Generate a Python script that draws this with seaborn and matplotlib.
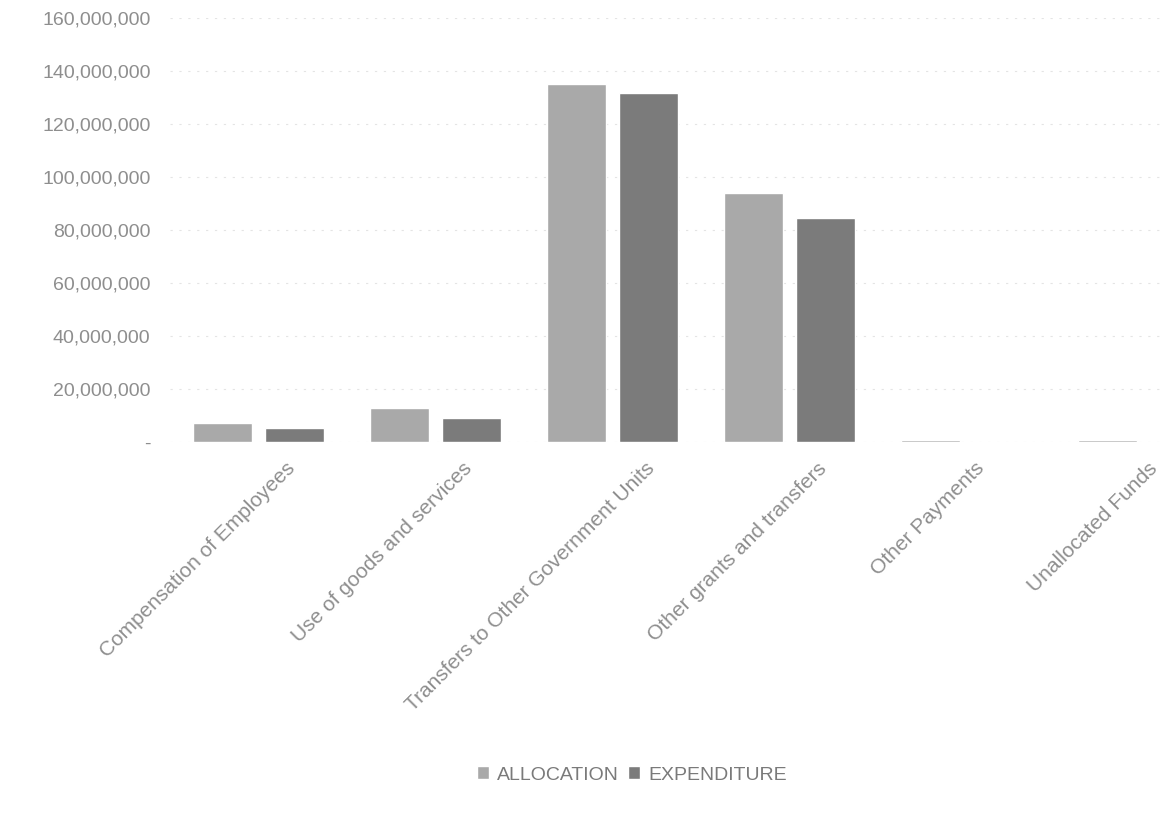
import matplotlib.pyplot as plt
import matplotlib.transforms as mtransforms
import seaborn as sns
import pandas as pd
from matplotlib.ticker import FuncFormatter

categories = ['Compensation of Employees', 'Use of goods and services',
              'Transfers to Other Government Units', 'Other grants and transfers',
              'Other Payments', 'Unallocated Funds']
allocation = [7200000, 12900000, 135000000, 94000000, 600000, 600000]
expenditure = [5300000, 9100000, 131700000, 84600000, 0, 0]
series = ['ALLOCATION', 'EXPENDITURE']

df = pd.DataFrame({
    'category': categories * 2,
    'value': allocation + expenditure,
    'series': [series[0]] * len(categories) + [series[1]] * len(categories),
})

sns.set_style('white')
plt.rcParams['font.family'] = ['Liberation Sans', 'DejaVu Sans']

fig = plt.figure(figsize=(11.63, 8.13), dpi=100)
ax = fig.add_axes([170 / 1163, 1 - 442 / 813, 993 / 1163, (442 - 18) / 813])

sns.barplot(data=df, x='category', y='value', hue='series',
            palette=['#a9a9a9', '#7b7b7b'], width=0.82, gap=0.19,
            ax=ax, legend=True)

ax.set_ylim(0, 160000000)
ax.set_xlim(-0.5, 5.11)
ax.set_yticks(range(0, 160000001, 20000000))
ax.yaxis.set_major_formatter(FuncFormatter(lambda v, p: '-' if v == 0 else f'{int(v):,}'))
ax.tick_params(axis='y', length=0, labelsize=14, labelcolor='#8e8e8e', pad=14)
ax.tick_params(axis='x', length=0, labelsize=15, labelcolor='#8e8e8e', pad=12)
ax.set_xticks(range(len(categories)))
ax.set_xticklabels(categories, rotation=45, ha='right', rotation_mode='anchor')
# small right shifts so the label ends sit like the reference (last one kept inside)
shifts = [0.27, 0.27, 0.33, 0.27, 0.08, 0.04]
for lab, dx in zip(ax.get_xticklabels(), shifts):
    lab.set_transform(lab.get_transform() + mtransforms.ScaledTranslation(dx, 0, fig.dpi_scale_trans))
ax.grid(axis='y', color='#e4e4e4', linestyle=(0, (2, 6)), linewidth=0.8)
ax.set_axisbelow(True)
for s in ax.spines.values():
    s.set_visible(False)
ax.set_xlabel('')
ax.set_ylabel('')

ax.get_legend().remove()
handles, labels = ax.get_legend_handles_labels()
fig.legend(handles, labels, loc='center', bbox_to_anchor=(632 / 1163, 1 - 775 / 813),
           ncol=2, frameon=False, fontsize=14, labelcolor='#7a7a7a',
           handlelength=0.6, handleheight=0.6, handletextpad=0.4, columnspacing=0.5)

fig.savefig('out.png', dpi=100)
